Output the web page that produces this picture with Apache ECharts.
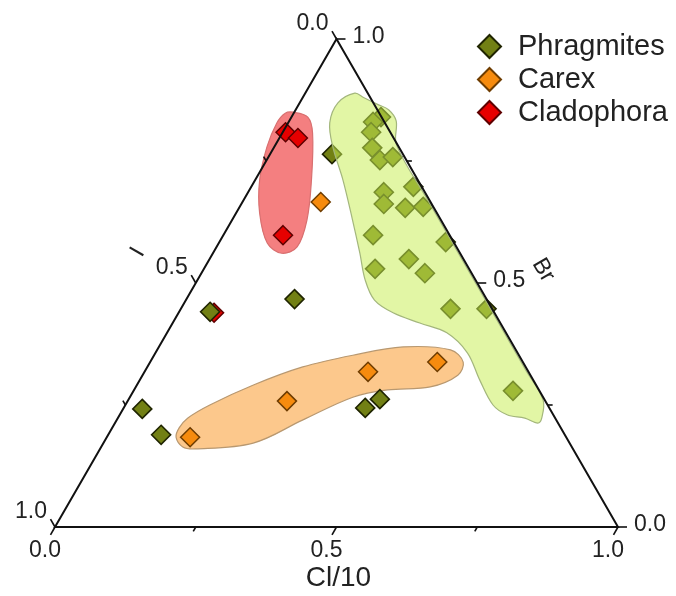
<!DOCTYPE html>
<html><head><meta charset="utf-8">
<script src="https://cdn.jsdelivr.net/npm/echarts/dist/echarts.min.js"></script>
<style>html,body{margin:0;padding:0;background:#fff}#c{width:676px;height:596px}</style>
</head><body><div id="c"></div>
<script>
// Ternary values as [Cl/10, Br]; I = 1 - Cl/10 - Br
const phragmites = [
  [0.159,0.840],[0.150,0.830],[0.157,0.809],[0.175,0.777],[0.201,0.752],[0.221,0.758],
  [0.288,0.697],[0.241,0.686],[0.253,0.662],[0.295,0.654],[0.326,0.656],[0.266,0.598],
  [0.402,0.584],[0.354,0.549],[0.304,0.529],[0.397,0.520],[0.479,0.447],[0.543,0.447],
  [0.674,0.279],[0.110,0.764],[0.192,0.467],[0.055,0.441],[0.034,0.242],[0.094,0.189],
  [0.429,0.244],[0.446,0.262]
];
const carex = [[0.139,0.666],[0.397,0.318],[0.510,0.338],[0.283,0.258],[0.148,0.184]];
const cladophora = [[0.005,0.809],[0.033,0.797],[0.106,0.598],[0.063,0.439]];

// hand-drawn group envelopes, in the same ternary units
const greenBlob = [
  [0.088,0.889],[0.108,0.880],[0.140,0.866],[0.165,0.855],[0.190,0.832],[0.215,0.783],
  [0.327,0.670],[0.454,0.543],[0.577,0.420],[0.675,0.322],[0.737,0.260],[0.753,0.223],
  [0.751,0.213],[0.723,0.223],[0.688,0.230],[0.653,0.250],[0.604,0.301],[0.554,0.357],
  [0.497,0.398],[0.439,0.418],[0.381,0.439],[0.335,0.465],[0.298,0.506],[0.261,0.561],
  [0.214,0.629],[0.156,0.711],[0.104,0.779],[0.074,0.828],[0.068,0.869]
];
const redBlob = [
  [-0.002,0.850],[0.029,0.840],[0.054,0.807],[0.100,0.711],[0.133,0.629],[0.143,0.574],
  [0.122,0.561],[0.086,0.582],[0.042,0.643],[0.008,0.711],[-0.013,0.779],[-0.020,0.828],
  [-0.015,0.848]
];
const orangeBlob = [
  [0.123,0.184],[0.145,0.164],[0.169,0.160],[0.266,0.172],[0.330,0.219],[0.396,0.266],
  [0.450,0.281],[0.523,0.287],[0.560,0.311],[0.556,0.338],[0.521,0.363],[0.434,0.369],
  [0.353,0.352],[0.276,0.328],[0.207,0.291],[0.150,0.250],[0.124,0.223],[0.119,0.203]
];

// axis ticks
const majorTicks = [0, 0.5, 1];
const tickLabels = ['0.0', '0.5', '1.0'];
const minorTicks = [0.25, 0.75];
const axisNames = ['Cl/10', 'Br', 'I'];

const SQ = Math.sqrt(3) / 2;
function toXY(cl, br) { return [cl + br / 2, br * SQ]; }
const FONT = "'Liberation Sans', Arial, sans-serif";

function blobSeries(name, pts, fill, stroke, z) {
  return {
    type: 'custom', name: name, z: z, silent: true,
    data: [0],
    renderItem: function (params, api) {
      return {
        type: 'polygon',
        shape: { points: pts.map(p => api.coord(toXY(p[0], p[1]))), smooth: 0.35 },
        style: { fill: fill, stroke: stroke, lineWidth: 1.2 }
      };
    }
  };
}

function frameRender(params, api) {
  const P = (cl, br) => api.coord(toXY(cl, br));
  const ch = [];
  ch.push({ type: 'polygon', shape: { points: [P(0, 0), P(1, 0), P(0, 1)] },
    style: { fill: 'none', stroke: '#111', lineWidth: 2 } });
  const sides = [
    { pt: v => P(v, 0), dir: [-0.5, 0.866], align: 'center', off: [-10, 24] },
    { pt: v => P(1 - v, v), dir: [1, 0], align: 'left', off: [16, -2] },
    { pt: v => P(0, 1 - v), dir: [-0.5, -0.866], align: 'right', off: [-8, -15] }
  ];
  sides.forEach(s => {
    majorTicks.concat(minorTicks).forEach(v => {
      const p = s.pt(v);
      const len = majorTicks.indexOf(v) >= 0 ? 9 : 5;
      ch.push({ type: 'line', shape: { x1: p[0], y1: p[1], x2: p[0] + s.dir[0] * len, y2: p[1] + s.dir[1] * len },
        style: { stroke: '#111', lineWidth: 1.6 } });
    });
    majorTicks.forEach((v, i) => {
      const p = s.pt(v);
      ch.push({ type: 'text', x: p[0] + s.off[0], y: p[1] + s.off[1],
        style: { text: tickLabels[i], fill: '#222', font: '23px ' + FONT, align: s.align, verticalAlign: 'middle' } });
    });
  });
  // axis names
  const bm = P(0.5, 0);
  ch.push({ type: 'text', x: bm[0] + 2, y: bm[1] + 51,
    style: { text: axisNames[0], fill: '#222', font: '28px ' + FONT, align: 'center', verticalAlign: 'middle' } });
  const rm = P(0.5, 0.5);
  ch.push({ type: 'text', x: rm[0] + 66, y: rm[1] - 13, rotation: -Math.PI / 3,
    style: { text: axisNames[1], fill: '#222', font: '23px ' + FONT, align: 'center', verticalAlign: 'middle' } });
  const lm = P(0, 0.5);
  ch.push({ type: 'text', x: lm[0] - 58, y: lm[1] - 31, rotation: Math.PI / 3,
    style: { text: axisNames[2], fill: '#222', font: '23px ' + FONT, align: 'center', verticalAlign: 'middle' } });
  return { type: 'group', children: ch };
}

const chart = echarts.init(document.getElementById('c'), null, { renderer: 'canvas' });
chart.setOption({
  animation: false,
  backgroundColor: '#fff',
  grid: { left: 55, top: 39, width: 563, height: 488, containLabel: false },
  xAxis: { type: 'value', min: 0, max: 1, show: false },
  yAxis: { type: 'value', min: 0, max: SQ, show: false },
  legend: {
    data: ['Phragmites', 'Carex', 'Cladophora'],
    orient: 'vertical', left: 472, top: 27,
    itemWidth: 23, itemHeight: 23, itemGap: 4, icon: 'diamond',
    textStyle: { fontSize: 29, lineHeight: 24, fontFamily: FONT, color: '#222', padding: [0, 0, 0, 12] }
  },
  series: [
    blobSeries('redBlob', redBlob, '#f47f80', '#d87070', 1),
    blobSeries('orangeBlob', orangeBlob, '#fcc88c', '#b89870', 1),
    { type: 'scatter', name: 'Cladophora', z: 2, symbol: 'diamond', symbolSize: 19,
      itemStyle: { color: '#e60000', borderColor: '#5e0000', borderWidth: 1.5, opacity: 1 },
      data: cladophora.map(p => toXY(p[0], p[1])) },
    { type: 'scatter', name: 'Carex', z: 2, symbol: 'diamond', symbolSize: 19,
      itemStyle: { color: '#f68b0e', borderColor: '#6e3c00', borderWidth: 1.5, opacity: 1 },
      data: carex.map(p => toXY(p[0], p[1])) },
    { type: 'scatter', name: 'Phragmites', z: 2, symbol: 'diamond', symbolSize: 19,
      itemStyle: { color: '#728014', borderColor: '#1f2400', borderWidth: 1.6, opacity: 1 },
      data: phragmites.map(p => toXY(p[0], p[1])) },
    blobSeries('greenBlob', greenBlob, 'rgba(200,238,85,0.53)', '#a3b67c', 3),
    { type: 'custom', name: 'frame', z: 4, silent: true, data: [0], renderItem: frameRender }
  ]
});
</script>
</body></html>
